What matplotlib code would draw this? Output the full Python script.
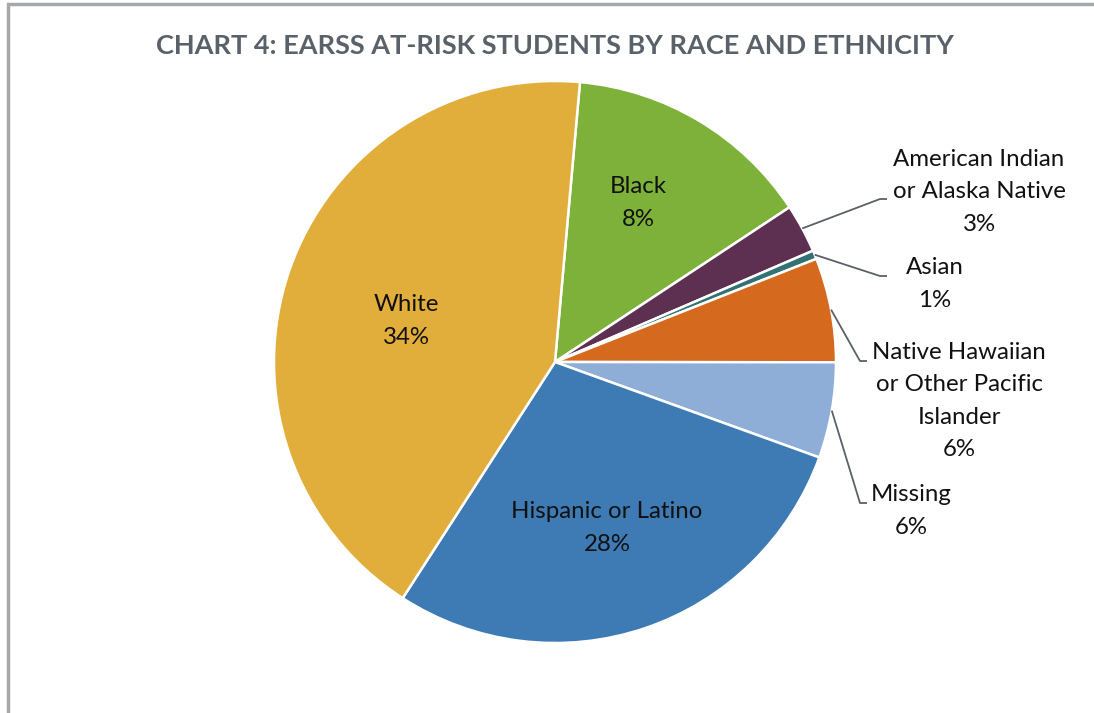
import numpy as np
import matplotlib.pyplot as plt
from matplotlib.patches import Rectangle

# slice sizes (share of circle, %), clockwise from top
groups = ['Black', 'American Indian\nor Alaska Native', 'Asian',
          'Native Hawaiian\nor Other Pacific\nIslander', 'Missing',
          'Hispanic or Latino', 'White']
sizes = [14.3, 2.8, 0.5, 6.0, 5.5, 28.6, 42.3]
# percentages printed on the chart
shown = ['8%', '3%', '1%', '6%', '6%', '28%', '34%']
colors = ['#7EB13A', '#5D2F51', '#327174', '#D5691E', '#8EAED7', '#3E7AB3', '#E1AE3C']

plt.rcParams['font.family'] = ['Lato', 'DejaVu Sans']

W, H = 1094, 713
fig = plt.figure(figsize=(W / 100, H / 100), dpi=100)
ax = fig.add_axes([0, 0, 1, 1])

cx, cy, r = 555, H - 362, 281
wedges, _ = ax.pie(sizes, colors=colors, startangle=84.9, counterclock=False,
                   center=(cx, cy), radius=r,
                   wedgeprops=dict(edgecolor='white', linewidth=1.8))
ax.set_xlim(0, W)
ax.set_ylim(0, H)
ax.set_aspect('equal')
ax.axis('off')

# chart frame
ax.add_patch(Rectangle((7.5, -20), W + 40, H - 4 + 20, fill=False,
                       edgecolor='#A6A9AC', linewidth=2.5, clip_on=False))

fig.text(555 / W, 1 - 46 / H, 'CHART 4: EARSS AT-RISK STUDENTS BY RACE AND ETHNICITY',
         ha='center', va='center', fontsize=19.5, fontweight='bold', color='#5A6169')

tcol = '#111111'
fs = 17.3
ls = 1.66

# labels inside the big slices
inside = {0: (638, 203), 5: (607, 528), 6: (406, 321)}
for i, (x, y) in inside.items():
    ax.text(x, H - y, groups[i] + '\n' + shown[i], ha='center', va='center',
            fontsize=fs, color=tcol, linespacing=ls)

# labels outside with leader lines: elbow point, text anchor
outside = {1: ((880, 199), (979, 192)),
           2: ((880, 276), (935, 284)),
           3: ((860, 361), (959, 401)),
           4: ((860, 503), (911, 511))}
for i, ((ex, ey), (tx, ty)) in outside.items():
    w = wedges[i]
    mid = np.deg2rad((w.theta1 + w.theta2) / 2)
    sx, sy = cx + r * np.cos(mid), cy + r * np.sin(mid)
    ax.plot([sx, ex, ex + 7], [sy, H - ey, H - ey], color='#5A6169', lw=1.3,
            solid_capstyle='butt')
    ax.text(tx, H - ty, groups[i] + '\n' + shown[i], ha='center', va='center',
            fontsize=fs, color=tcol, linespacing=ls)

fig.savefig('out.png', dpi=100)
